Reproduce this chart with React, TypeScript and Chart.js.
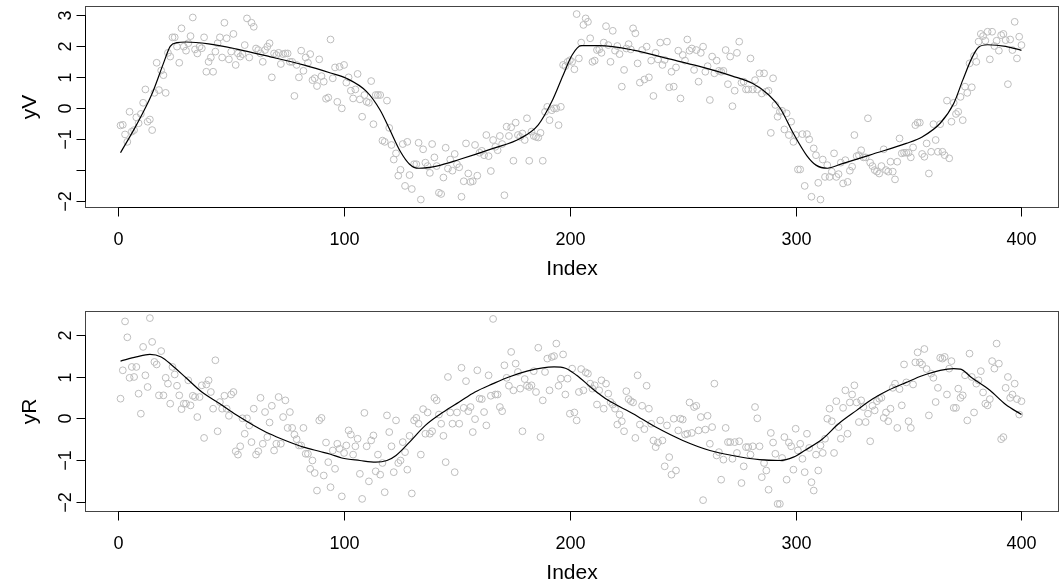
import React, { useEffect, useRef } from "react";
import { Chart, registerables } from "chart.js";

Chart.register(...registerables);

const FONT = '"Liberation Sans", Arial, Helvetica, sans-serif';

// Axis ticks
const xTicks = [0, 100, 200, 300, 400];
const xTickLabels = ["0", "100", "200", "300", "400"];
const yVTicks = [3, 2, 1, 0, -1, -2, -3];
const yVTickLabels = ["3", "2", "1", "0", "\u22121", "", "\u22122"];
const yRTicks = [2, 1, 0, -1, -2];
const yRTickLabels = ["2", "1", "0", "\u22121", "\u22122"];

// Observations (index 1..400)
const yV = [
  -0.57, -0.55, -0.86, -1.1, -0.13, -0.77, -0.72, -0.31, -0.5, -0.2,
  0.16, 0.59, -0.45, -0.38, -0.72, 0.48, 1.45, 0.57, 1.2, 1.05,
  0.48, 1.77, 1.65, 2.27, 2.27, 1.97, 1.45, 2.56, 1.97, 1.84,
  2.08, 2.31, 2.91, 1.88, 1.75, 1.97, 1.92, 2.27, 1.16, 1.48,
  1.62, 1.16, 1.81, 2.08, 2.27, 1.62, 2.74, 2.24, 1.56, 1.81,
  2.38, 1.38, 1.75, 1.65, 1.73, 2.02, 2.88, 1.62, 2.74, 2.61,
  1.91, 1.86, 1.75, 1.48, 1.86, 1.97, 2.08, 0.98, 1.75, 1.7,
  1.77, 1.41, 1.73, 1.75, 1.75, 1.48, 1.48, 0.38, 1.38, 0.98,
  1.84, 1.19, 1.62, 1.45, 1.73, 0.89, 0.95, 0.7, 1.56, 1.02,
  0.84, 0.29, 0.33, 2.2, 0.95, 1.3, 0.19, 1.32, -0.02, 1.38,
  0.81, 0.98, 0.55, 0.3, 0.59, 1.09, 0.27, -0.29, 0.41, 0.19,
  0.16, 0.86, -0.53, 0.41, 0.41, 0.41, -1.06, -1.1, 0.23, -0.65,
  -1.2, -1.67, -1.47, -2.19, -2.0, -1.17, -2.52, -1.1, -2.17, -2.62,
  -1.82, -1.82, -1.13, -2.96, -1.34, -1.77, -1.88, -2.1, -1.17, -1.6,
  -1.88, -2.74, -2.78, -2.25, -1.29, -1.96, -1.67, -2.03, -1.49, -1.82,
  -1.92, -2.87, -2.37, -1.15, -2.12, -2.39, -2.37, -1.2, -2.19, -1.45,
  -1.39, -1.53, -0.88, -1.56, -2.04, -1.04, -1.26, -1.37, -0.91, -1.17,
  -2.82, -0.61, -0.91, -0.63, -1.71, -0.48, -0.88, -0.94, -0.83, -1.04,
  -0.34, -1.71, -0.77, -0.91, -0.94, -0.96, -0.81, -1.71, -0.13, 0.03,
  -0.4, -0.08, -0.02, -0.02, -0.56, 0.03, 1.38, 1.34, 1.48, 1.53,
  1.48, 1.24, 3.02, 1.59, 2.1, 2.67, 2.88, 2.77, 2.24, 1.48,
  1.52, 1.86, 1.88, 1.77, 2.1, 2.63, 2.02, 1.48, 2.48, 1.84,
  1.99, 1.73, 0.68, 1.22, 1.91, 2.05, 1.88, 2.56, 2.4, 1.43,
  0.81, 1.86, 0.91, 1.97, 0.98, 1.52, 0.38, 1.77, 1.56, 2.1,
  1.38, 1.54, 2.13, 0.66, 1.16, 0.68, 1.3, 1.84, 0.3, 1.7,
  1.52, 2.2, 1.84, 1.91, 1.22, 1.86, 0.84, 1.77, 1.97, 1.16,
  1.34, 0.25, 1.65, 1.11, 1.52, 1.19, 1.16, 1.19, 1.86, 0.76,
  1.65, 0.05, 0.55, 1.77, 2.13, 0.81, 0.84, 0.59, 0.59, 1.59,
  0.59, 0.89, 0.59, 1.11, 0.46, 1.11, 0.52, 0.55, -0.81, 0.95,
  0.09, -0.29, -0.13, -0.1, -0.7, -0.18, -0.88, -0.45, -1.1, -0.88,
  -1.99, -1.99, -0.85, -2.52, -0.85, -1.02, -2.87,
  -1.31, -1.53, -2.42, -2.96, -1.67, -2.23, -1.85, -2.23, -2.06, -1.47,
  -2.23, -2.14, -1.77, -2.44, -1.69, -2.39, -2.03, -1.9, -0.88, -1.56,
  -1.53, -1.37, -1.6, -1.6, -0.34, -1.77, -1.88, -2.01, -2.06, -2.12,
  -1.88, -1.34, -2.01, -2.06, -1.74, -2.06, -2.31, -1.74, -0.99, -1.47,
  -1.45, -1.45, -1.45, -1.6, -1.28, -0.56, -0.48, -0.48, -1.49, -1.58,
  -1.15, -2.12, -1.42, -0.53, -1.04, -1.42, -0.53, -1.42, -1.53, 0.23,
  -1.63, -0.45, 0.16, -0.2, -0.13, 0.35, -0.4, 0.68, 0.48, 1.43,
  0.66, 1.67, 1.48, 2.13, 2.38, 2.31, 2.16, 2.45, 1.56, 2.45,
  1.99, 2.16, 1.84, 2.34, 2.38, 2.18, 0.76, 2.2, 1.86, 2.77,
  1.59, 2.29, 2.02,
];

const yR = [
  0.47, 1.15, 2.32, 1.94, 0.97, 1.23, 0.99, 1.23, 0.59, 0.11,
  1.71, 1.03, 0.75, 2.4, 1.83, 1.35, 1.29, 0.55, 1.61, 0.55,
  0.97, 0.83, 0.35, 1.23, 1.05, 0.78, 0.55, 0.22, 0.35, 0.35,
  0.91, 0.31, 0.54, 0.51, 0.03, 0.51, 0.79, -0.47, 0.81, 0.91,
  0.63, 0.23, 1.39, -0.31, 0.39, 0.23, 0.54, 0.23, 0.06, 0.57,
  0.63, -0.79, -0.87, -0.67, 0, -0.37, 0, -0.17, -0.57, 0.23,
  -0.87, -0.79, 0.49, -0.61, 0.15, -0.45, -0.1, 0.3, -0.77, -0.61,
  0.51, -0.61, 0.03, 0.43, -0.23, 0.15, -0.23, -0.39, -0.5, -0.65,
  -0.65, -0.23, -0.85, -0.85, -1.21, -1.01, -1.31, -1.73, -0.05, 0.01,
  -1.37, -0.58, -1.05, -1.65, -0.77, -1.21, -0.61, -0.73, -1.87, -0.83,
  -0.65, -0.29, -0.39, -0.87, -0.67, -0.49, -1.33, -1.93, 0.13, -0.67,
  -1.51, -0.53, -0.41, -1.27, -0.87, -1.35, -1.07, -1.77, 0.07, -0.33,
  -0.67, -1.29, -0.05, -1.07, -1.01, -0.57, -0.81, -1.23, -0.42, -1.8,
  -0.05, 0.01, -0.13, -0.87, 0.22, -0.37, 0.14, -0.37, -0.31, 0.49,
  0.43, 0.09, -0.13, -0.42, -1.05, 0.99, 0.14, -0.13, -1.29, 0.14,
  -0.13, 1.21, 0.25, 0.89, 0.17, 0.27, -0.33, -0.02, 1.15, 0.47,
  0.46, 0.15, -0.17, 1.03, 0.54, 2.38, 0.57, 0.57, 0.27, 0.17,
  1.27, 0.97, 0.78, 1.59, 0.67, 1.31, 1.11, 0.71, -0.31, 0.94,
  0.78, 0.75, 0.79, 1.13, 0.63, 1.69, -0.45, 0.43, 1.11, 1.43,
  0.67, 1.47, 1.49, 1.79, 0.78, 0.95, 1.53, 0.57, 0.95, 0.11,
  1.19, 0.14, -0.05, 0.63, 1.18, 0.67, 1.1, 1.07, 0.83, 0.71,
  0.79, 0.33, 0.67, 0.91, 0.23, 0.83, 0.59, 0.39, 0.33, 0.23,
  -0.15, 0.09, -0.07, -0.31, 0.65, 0.46, 0.41, 0.38, -0.47, 1.03,
  -0.15, 0.3, -0.26, 0.78, 0.23, -0.13, -0.53, -0.69, -0.58, -0.05,
  -0.53, -1.15, -0.17, -0.93, -1.35, -0.01, -1.25, -0.29, -0.01, -0.03,
  -0.39, -0.37, 0.38, -0.35, 0.27, 0.3, -0.29, 0.03, -1.96, -0.27,
  0.06, -0.61, -0.21, 0.83, -0.89, -0.81, -1.47, -0.99, -0.23, -0.57,
  -0.57, -0.97, -0.57, -0.83, -0.55, -1.55, -1.15, -0.69, -0.69, -0.87,
  -0.67, 0.27, 0.0, -0.67, -1.41, -1.07, -1.25, -1.71, -0.35, -0.58,
  -0.85, -2.05, -2.05, -0.95, -0.45, -1.47, -0.58, -0.67, -1.23, -0.25,
  -0.77, -0.61, -0.97, -1.29,
  -0.37, -0.71, -1.53, -1.73, -0.87, -1.25, -0.65, -0.83, -0.49, -0.01,
  0.23, -0.07, -0.83, 0.41, -0.21, -0.49, 0.25, 0.67, -0.37, 0.38,
  0.57, 0.79, 0.38, -0.09, 0.43, 0.27, -0.09, 0.11, -0.55, 0.3,
  0.19, 0.41, 0.47, 0.49, 0.01, 0.14, -0.07, 0.23, 0.73, 0.83,
  -0.23, 0.7, 0.31, 1.29, 0.86, -0.07, -0.23, 0.81, 1.34, 1.58,
  1.34, 1.29, 1.66, 1.18, 0.07, 1.07, 0.97, 0.39, 0.73, 1.45,
  1.43, 1.47, 0.57, 1.19, 1.37, 0.25, 0.25, 0.71, 0.49, 0.55,
  1.03, -0.05, 1.55, 0.99, 0.14, 0.83, 0.91, 1.13, 0.62, 0.35,
  0.31, 0.46, 1.37, 1.19, 1.79, 1.31, -0.5, -0.45, 0.73, 0.99,
  0.49, 0.57, 0.83, 0.46, 0.09, 0.41,
];

// Fitted curves (read at selected indices)
const yVFitX = [1, 8, 15, 20, 23, 26, 30, 40, 52, 67, 82, 94, 101, 110, 116, 120, 125, 129, 133, 141, 151, 166, 178, 186, 192, 197, 201, 205, 213, 228, 243, 257, 272, 281, 288, 293, 299, 305, 309, 314, 320, 334, 349, 356, 364, 370, 374, 378, 381, 385, 393, 400];
const yVFitY = [-1.45, -0.56, 0.46, 1.43, 1.98, 2.1, 2.12, 2.06, 1.9, 1.65, 1.38, 1.12, 0.95, 0.52, -0.08, -0.67, -1.42, -1.82, -1.95, -1.88, -1.67, -1.31, -0.99, -0.55, 0.2, 1.05, 1.7, 2.0, 2.0, 1.86, 1.59, 1.34, 1.02, 0.78, 0.42, 0.0, -0.83, -1.55, -1.85, -1.95, -1.82, -1.5, -1.15, -0.94, -0.5, 0.14, 0.89, 1.6, 1.95, 2.03, 1.98, 1.85];
const yRFitX = [1, 8, 14, 19, 24, 30, 37, 45, 52, 60, 67, 74, 82, 89, 94, 99, 107, 114, 119, 123, 129, 136, 144, 151, 158, 166, 173, 181, 188, 193, 198, 203, 210, 217, 228, 238, 250, 262, 272, 284, 293, 299, 304, 312, 319, 327, 334, 341, 349, 356, 364, 370, 373, 378, 386, 393, 400];
const yRFitY = [1.37, 1.47, 1.53, 1.47, 1.26, 0.97, 0.63, 0.35, 0.09, -0.17, -0.37, -0.53, -0.69, -0.79, -0.86, -0.95, -1.01, -1.05, -1.01, -0.89, -0.57, -0.17, 0.15, 0.39, 0.63, 0.83, 0.99, 1.13, 1.21, 1.23, 1.2, 1.03, 0.71, 0.43, 0.11, -0.21, -0.53, -0.77, -0.89, -0.99, -1.01, -0.93, -0.77, -0.49, -0.13, 0.19, 0.46, 0.67, 0.86, 1.02, 1.15, 1.19, 1.18, 0.97, 0.67, 0.33, 0.09];

const rAxesPlugin = {
  id: "rAxes",
  afterDraw(chart: any, _args: any, opts: any) {
    const ctx = chart.ctx;
    const ca = chart.chartArea;
    const xs = chart.scales.x;
    const ys = chart.scales.y;
    const L = Math.round(ca.left) + 0.5;
    const R = Math.round(ca.right) + 0.5;
    const T = Math.round(ca.top) + 0.5;
    const B = Math.round(ca.bottom) + 0.5;
    const tickLen = 9;
    ctx.save();
    ctx.lineWidth = 1;
    ctx.strokeStyle = "#444";
    ctx.strokeRect(L, T, R - L, B - T);

    ctx.strokeStyle = "#000";
    ctx.fillStyle = "#000";
    // x axis
    const xp = opts.xTicks.map((v: number) => Math.round(xs.getPixelForValue(v)) + 0.5);
    ctx.beginPath();
    ctx.moveTo(xp[0], B);
    ctx.lineTo(xp[xp.length - 1], B);
    xp.forEach((p: number) => {
      ctx.moveTo(p, B);
      ctx.lineTo(p, B + tickLen);
    });
    ctx.stroke();
    ctx.font = `18px ${FONT}`;
    ctx.textAlign = "center";
    ctx.textBaseline = "middle";
    xp.forEach((p: number, i: number) => ctx.fillText(opts.xLabels[i], p, B + 33));

    // y axis
    const yp = opts.yTicks.map((v: number) => Math.round(ys.getPixelForValue(v)) + 0.5);
    ctx.beginPath();
    ctx.moveTo(L, yp[0]);
    ctx.lineTo(L, yp[yp.length - 1]);
    yp.forEach((p: number) => {
      ctx.moveTo(L, p);
      ctx.lineTo(L - tickLen, p);
    });
    ctx.stroke();
    yp.forEach((p: number, i: number) => {
      const lab = opts.yLabels[i];
      if (!lab) return;
      ctx.save();
      ctx.translate(L - 19.5, p);
      ctx.rotate(-Math.PI / 2);
      ctx.fillText(lab, 0, 0);
      ctx.restore();
    });

    // titles
    ctx.font = `21px ${FONT}`;
    ctx.fillText(opts.xTitle, (L + R) / 2, B + 62);
    ctx.save();
    ctx.translate(30, (T + B) / 2);
    ctx.rotate(-Math.PI / 2);
    ctx.fillText(opts.yTitle, 0, 0);
    ctx.restore();
    ctx.restore();
  },
};

type PanelProps = {
  topPx: number;
  values: number[];
  fitX: number[];
  fitY: number[];
  yMin: number;
  yMax: number;
  yTicks: number[];
  yLabels: string[];
  yTitle: string;
  padTop: number;
  padBottom: number;
};

function Panel(props: PanelProps) {
  const ref = useRef<HTMLCanvasElement | null>(null);
  useEffect(() => {
    if (!ref.current) return;
    const pts = props.values.map((v, i) => ({ x: i + 1, y: v }));
    const fit = props.fitX.map((x, i) => ({ x, y: props.fitY[i] }));
    const chart = new Chart(ref.current, {
      type: "scatter",
      data: {
        datasets: [
          {
            data: fit,
            showLine: true,
            borderColor: "#000",
            borderWidth: 1.2,
            pointRadius: 0,
            cubicInterpolationMode: "monotone",
            fill: false,
          } as any,
          {
            data: pts,
            showLine: false,
            pointStyle: "circle",
            pointRadius: 3.4,
            borderWidth: 1,
            borderColor: "#bdbdbd",
            backgroundColor: "rgba(0,0,0,0)",
          },
        ],
      },
      options: {
        responsive: false,
        animation: false,
        events: [],
        layout: {
          padding: { left: 84.5, right: 5.5, top: props.padTop, bottom: props.padBottom },
        },
        scales: {
          x: { type: "linear", min: -14.96, max: 415.96, display: false },
          y: { type: "linear", min: props.yMin, max: props.yMax, display: false },
        },
        plugins: {
          legend: { display: false },
          tooltip: { enabled: false },
          rAxes: {
            xTicks,
            xLabels: xTickLabels,
            yTicks: props.yTicks,
            yLabels: props.yLabels,
            xTitle: "Index",
            yTitle: props.yTitle,
          },
        } as any,
      },
      plugins: [rAxesPlugin],
    });
    return () => chart.destroy();
  }, []);
  return (
    <canvas
      ref={ref}
      width={1063}
      height={293}
      style={{ position: "absolute", left: 0, top: props.topPx, width: 1063, height: 293 }}
    />
  );
}

export default function App() {
  return (
    <div style={{ position: "absolute", left: 0, top: 0, width: 1063, height: 586, background: "#fff" }}>
      <Panel
        topPx={0}
        values={yV}
        fitX={yVFitX}
        fitY={yVFitY}
        yMin={-3.2}
        yMax={3.28}
        yTicks={yVTicks}
        yLabels={yVTickLabels}
        yTitle="yV"
        padTop={6}
        padBottom={86}
      />
      <Panel
        topPx={293}
        values={yR}
        fitX={yRFitX}
        fitY={yRFitY}
        yMin={-2.22}
        yMax={2.57}
        yTicks={yRTicks}
        yLabels={yRTickLabels}
        yTitle="yR"
        padTop={18}
        padBottom={75}
      />
    </div>
  );
}
